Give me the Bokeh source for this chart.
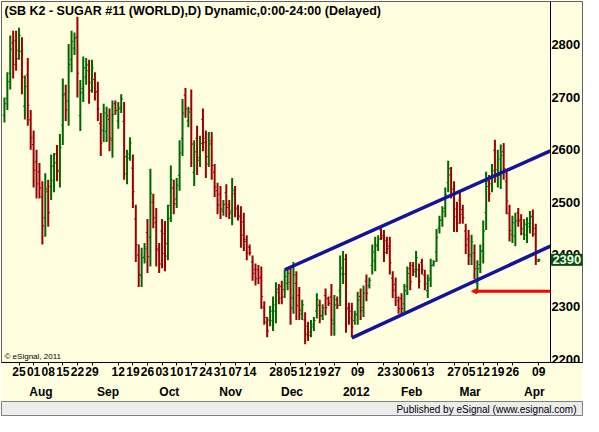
import pandas as pd
from bokeh.plotting import figure
from bokeh.models import (ColumnDataSource, FixedTicker, Label, LinearAxis, Arrow, NormalHead)
from bokeh.layouts import column
from bokeh.embed import file_html
from bokeh.resources import INLINE

# ---------------- data ----------------
highs = [2700, 2748, 2818, 2827, 2827, 2833, 2815, 2742, 2775, 2676, 2637, 2600, 2575, 2540, 2555, 2543,
         2591, 2594, 2609, 2630, 2736, 2724, 2802, 2827, 2824, 2854, 2733, 2778, 2775, 2772, 2772, 2748,
         2730, 2670, 2688, 2682, 2679, 2694, 2694, 2691, 2706, 2691, 2600, 2624, 2591, 2495, 2419, 2413,
         2422, 2468, 2564, 2516, 2489, 2422, 2468, 2464, 2495, 2570, 2543, 2546, 2618, 2697, 2718, 2682,
         2715, 2618, 2646, 2627, 2679, 2637, 2634, 2634, 2573, 2537, 2531, 2504, 2534, 2504, 2546, 2531,
         2495, 2492, 2480, 2437, 2419, 2398, 2383, 2380, 2377, 2311, 2281, 2302, 2320, 2347, 2344, 2350,
         2371, 2374, 2374, 2386, 2368, 2338, 2314, 2290, 2272, 2275, 2281, 2326, 2314, 2305, 2335, 2320,
         2344, 2323, 2320, 2398, 2407, 2401, 2308, 2308, 2293, 2329, 2335, 2341, 2362, 2356, 2419, 2434,
         2437, 2453, 2447, 2434, 2434, 2368, 2356, 2320, 2326, 2344, 2377, 2386, 2386, 2407, 2383, 2392,
         2371, 2362, 2392, 2389, 2449, 2474, 2492, 2528, 2579, 2567, 2540, 2501, 2519, 2495, 2459, 2447,
         2438, 2419, 2389, 2419, 2465, 2558, 2552, 2573, 2619, 2600, 2610, 2613, 2561, 2495, 2474, 2480,
         2489, 2477, 2468, 2471, 2483, 2486, 2459, 2392]
lows = [2652, 2676, 2715, 2736, 2751, 2772, 2706, 2658, 2646, 2600, 2528, 2507, 2507, 2419, 2434, 2453,
        2504, 2519, 2540, 2528, 2609, 2655, 2646, 2748, 2781, 2700, 2636, 2691, 2724, 2688, 2709, 2694,
        2655, 2588, 2615, 2615, 2597, 2585, 2667, 2640, 2670, 2543, 2534, 2579, 2489, 2386, 2338, 2338,
        2383, 2365, 2377, 2450, 2377, 2365, 2374, 2368, 2389, 2462, 2477, 2489, 2522, 2588, 2661, 2643,
        2567, 2531, 2552, 2567, 2597, 2546, 2567, 2543, 2510, 2477, 2468, 2474, 2471, 2468, 2456, 2471,
        2465, 2413, 2407, 2389, 2398, 2350, 2341, 2344, 2296, 2266, 2242, 2263, 2254, 2269, 2305, 2305,
        2317, 2332, 2266, 2287, 2275, 2275, 2275, 2229, 2235, 2242, 2254, 2278, 2269, 2275, 2284, 2302,
        2245, 2245, 2296, 2302, 2344, 2251, 2266, 2242, 2266, 2266, 2275, 2281, 2311, 2335, 2362, 2368,
        2407, 2428, 2386, 2401, 2362, 2317, 2302, 2287, 2284, 2290, 2323, 2332, 2359, 2356, 2335, 2362,
        2332, 2317, 2338, 2377, 2386, 2440, 2453, 2471, 2519, 2507, 2443, 2443, 2459, 2459, 2401, 2380,
        2380, 2353, 2326, 2365, 2383, 2447, 2501, 2519, 2537, 2528, 2525, 2543, 2477, 2425, 2422, 2416,
        2453, 2437, 2428, 2422, 2440, 2434, 2380, 2386]
opens = [2666, 2698, 2746, 2804, 2808, 2790, 2788, 2683, 2743, 2657, 2610, 2577, 2558, 2510, 2470, 2520,
         2530, 2542, 2592, 2559, 2647, 2707, 2693, 2772, 2794, 2815, 2665, 2717, 2739, 2751, 2728, 2734,
         2711, 2650, 2637, 2635, 2658, 2618, 2688, 2655, 2681, 2654, 2554, 2592, 2565, 2468, 2399, 2360,
         2395, 2442, 2433, 2500, 2461, 2408, 2445, 2440, 2421, 2494, 2527, 2506, 2551, 2621, 2704, 2655,
         2678, 2557, 2622, 2585, 2658, 2614, 2587, 2611, 2557, 2522, 2515, 2483, 2518, 2495, 2483, 2516,
         2487, 2472, 2462, 2425, 2414, 2386, 2372, 2371, 2357, 2300, 2271, 2275, 2274, 2292, 2334, 2339,
         2333, 2345, 2347, 2317, 2345, 2322, 2287, 2275, 2263, 2252, 2262, 2292, 2303, 2284, 2322, 2316,
         2319, 2268, 2314, 2331, 2363, 2363, 2298, 2292, 2274, 2285, 2320, 2299, 2349, 2341, 2379, 2388,
         2416, 2447, 2432, 2426, 2416, 2355, 2343, 2312, 2316, 2306, 2339, 2373, 2379, 2371, 2371, 2385,
         2361, 2331, 2354, 2380, 2405, 2450, 2465, 2488, 2537, 2552, 2516, 2487, 2504, 2486, 2445, 2430,
         2397, 2403, 2345, 2381, 2408, 2480, 2539, 2535, 2599, 2550, 2551, 2596, 2540, 2478, 2438, 2435,
         2480, 2467, 2440, 2437, 2453, 2473, 2439, 2387]
closes = [2688, 2730, 2792, 2763, 2774, 2818, 2739, 2721, 2685, 2623, 2561, 2535, 2527, 2455, 2525, 2480,
          2569, 2575, 2561, 2604, 2704, 2676, 2763, 2807, 2813, 2746, 2709, 2756, 2762, 2713, 2756, 2710,
          2678, 2613, 2670, 2665, 2622, 2667, 2675, 2678, 2697, 2587, 2584, 2613, 2520, 2419, 2362, 2394,
          2412, 2396, 2517, 2470, 2411, 2382, 2402, 2397, 2469, 2543, 2497, 2532, 2594, 2670, 2678, 2672,
          2611, 2596, 2580, 2612, 2622, 2573, 2617, 2570, 2529, 2495, 2487, 2496, 2490, 2479, 2523, 2489,
          2474, 2437, 2429, 2403, 2404, 2364, 2354, 2355, 2320, 2280, 2254, 2292, 2304, 2328, 2317, 2319,
          2358, 2364, 2298, 2361, 2303, 2294, 2304, 2247, 2246, 2267, 2274, 2314, 2283, 2298, 2299, 2307,
          2275, 2304, 2303, 2374, 2391, 2296, 2279, 2262, 2286, 2313, 2293, 2326, 2326, 2351, 2405, 2418,
          2430, 2436, 2404, 2411, 2384, 2332, 2318, 2297, 2297, 2331, 2364, 2348, 2367, 2394, 2349, 2371,
          2344, 2351, 2379, 2386, 2433, 2466, 2482, 2514, 2564, 2525, 2472, 2460, 2477, 2470, 2418, 2400,
          2424, 2373, 2373, 2406, 2445, 2530, 2516, 2560, 2562, 2582, 2589, 2564, 2502, 2446, 2461, 2464,
          2464, 2449, 2458, 2459, 2472, 2450, 2390, 2390]

holidays = ["2011-09-05", "2011-11-24", "2011-12-26", "2012-01-02", "2012-01-16", "2012-02-20", "2012-04-06"]
dates = [d.strftime("%Y-%m-%d") for d in pd.bdate_range("2011-07-18", "2012-04-09")
         if d.strftime("%Y-%m-%d") not in holidays]

day_label_dates = ["2011-07-25", "2011-08-01", "2011-08-08", "2011-08-15", "2011-08-22", "2011-08-29",
                   "2011-09-12", "2011-09-19", "2011-09-26", "2011-10-03", "2011-10-10", "2011-10-17",
                   "2011-10-24", "2011-10-31", "2011-11-07", "2011-11-14", "2011-11-28", "2011-12-05",
                   "2011-12-12", "2011-12-19", "2011-12-27", "2012-01-09", "2012-01-23", "2012-01-30",
                   "2012-02-06", "2012-02-13", "2012-02-27", "2012-03-05", "2012-03-12", "2012-03-19",
                   "2012-03-26", "2012-04-09"]
month_first_dates = ["2011-08-01", "2011-09-01", "2011-10-03", "2011-11-01", "2011-12-01",
                     "2012-01-03", "2012-02-01", "2012-03-01", "2012-04-02"]
month_labels = ["Aug", "Sep", "Oct", "Nov", "Dec", "2012", "Feb", "Mar", "Apr"]
price_ticks = [2200, 2300, 2400, 2500, 2600, 2700, 2800]

# channel lines (start date -> right edge of the price area) and support level
upper_start = "2011-12-01"
upper_vals = [2371, 2598]
lower_start = "2012-01-05"
lower_vals = [2241, 2416]
support_date = "2012-03-06"
support_val = 2330

title_text = "(SB K2 - SUGAR #11 (WORLD),D) Dynamic,0:00-24:00 (Delayed)"

# ---------------- styling ----------------
BG = "#FFFFE0"
UP = "#006600"
DN = "#990000"
CH = "#14149A"
FONT = "Liberation Sans"

n = len(highs)
xs = list(range(n))
X0, XA, X1 = -1.0, 187.0, 198.0   # left edge, price-axis position, right edge
Y0, Y1 = 2194, 2883

p = figure(width=583, height=401, x_range=(X0, X1), y_range=(Y0, Y1),
           output_backend="svg", toolbar_location=None, y_axis_location="right",
           background_fill_color=BG, border_fill_color=BG,
           min_border_left=1, min_border_top=1, min_border_right=1, min_border_bottom=30)
p.outline_line_color = "#606060"
p.xgrid.visible = False
p.ygrid.visible = False

colors = [UP if c >= o else DN for o, c in zip(opens, closes)]
src = ColumnDataSource(dict(x=xs, xl=[i - 0.6 for i in xs], xr=[i + 0.6 for i in xs],
                            h=highs, l=lows, o=opens, c=closes, color=colors))
p.segment("x", "l", "x", "h", source=src, line_color="color", line_width=2)
p.segment("xl", "o", "x", "o", source=src, line_color="color", line_width=1)
p.segment("x", "c", "xr", "c", source=src, line_color="color", line_width=1)

# channel
p.line([dates.index(upper_start), XA], upper_vals, line_color=CH, line_width=3.5)
p.line([dates.index(lower_start), XA], lower_vals, line_color=CH, line_width=3.5)

# support arrow
sx = dates.index(support_date)
p.add_layout(Arrow(end=NormalHead(size=5, fill_color="#FF0000", line_color="#FF0000", line_width=1),
                   x_start=XA, y_start=support_val, x_end=sx, y_end=support_val,
                   line_color="#FF0000", line_width=3))

# price axis, fixed inside the frame
ya = p.yaxis[0]
ya.fixed_location = XA
ya.ticker = FixedTicker(ticks=price_ticks)
ya.major_label_text_font = FONT
ya.major_label_text_font_style = "bold"
ya.major_label_text_font_size = "13px"
ya.major_label_text_color = "black"
ya.major_tick_in = 0
ya.major_tick_out = 0
ya.minor_tick_line_color = None
ya.major_label_standoff = 1
ya.axis_line_color = "black"

xa = p.xaxis[0]
day_ticks = [dates.index(d) for d in day_label_dates]
xa.ticker = FixedTicker(ticks=day_ticks)
xa.major_label_overrides = {t: d[-2:] for t, d in zip(day_ticks, day_label_dates)}
xa.major_label_text_font = FONT
xa.major_label_text_font_style = "bold"
xa.major_label_text_font_size = "12px"
xa.major_label_text_color = "black"
xa.major_tick_in = 0
xa.major_tick_out = 3
xa.major_tick_line_color = "black"
xa.minor_tick_line_color = None
xa.major_label_standoff = 1
xa.axis_line_color = "black"

# month axis: label left edge sits just before the month's first trading day
month_ticks = [round((dates.index(d) - 1.3 + len(m) * 1.2) * 2) / 2
               for d, m in zip(month_first_dates, month_labels)]
ma = LinearAxis(ticker=FixedTicker(ticks=month_ticks),
                major_label_overrides={t: m for t, m in zip(month_ticks, month_labels)},
                axis_line_color=None, major_tick_line_color=None, minor_tick_line_color=None,
                major_label_standoff=0, major_label_text_font=FONT,
                major_label_text_font_style="bold", major_label_text_font_size="12px",
                major_label_text_color="black")
p.add_layout(ma, "below")

# title
p.add_layout(Label(x=X0, y=Y1, x_offset=3, y_offset=-2, text=title_text, text_align="left",
                   text_baseline="top", text_font=FONT, text_font_style="bold",
                   text_font_size="12.5px", text_color="black"))
# copyright
p.add_layout(Label(x=X0, y=Y0, x_offset=3, y_offset=2, text="\u00a9 eSignal, 2011", text_align="left",
                   text_baseline="bottom", text_font=FONT, text_font_size="8px", text_color="black"))
# last price box
p.add_layout(Label(x=XA, y=closes[-1], x_offset=1, text=str(closes[-1]), text_align="left",
                   text_baseline="middle", text_font=FONT, text_font_style="bold",
                   text_font_size="13px", text_color="#E8FFE8",
                   background_fill_color="#0B4A0B", border_line_color="#0B4A0B", padding=1))

# footer
f = figure(width=583, height=15, x_range=(0, 1), y_range=(0, 1), output_backend="svg",
           toolbar_location=None, min_border=0, background_fill_color="#ECECEC",
           border_fill_color="#ECECEC")
f.axis.visible = False
f.grid.visible = False
f.outline_line_color = "#808080"
f.add_layout(Label(x=1, y=0.5, x_offset=-6, text="Published by eSignal (www.esignal.com)",
                   text_align="right", text_baseline="middle", text_font=FONT,
                   text_font_size="10px", text_color="black"))

layout = column(p, f, spacing=0)
open("out.html", "w").write(file_html(layout, INLINE))
